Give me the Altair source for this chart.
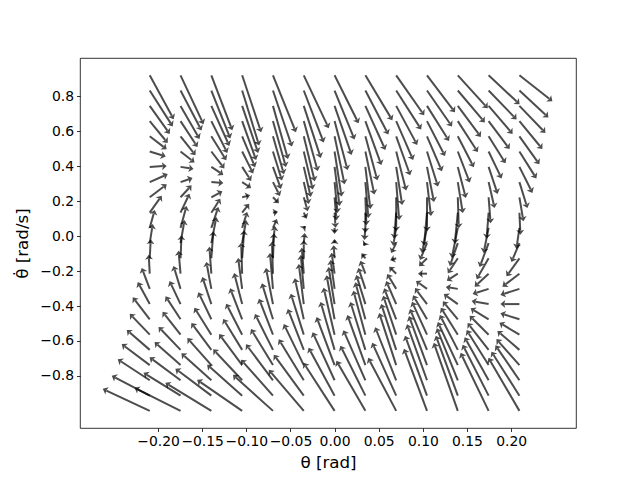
import math
import altair as alt
import pandas as pd

# grid of the quiver (theta in rad, theta-dot in rad/s)
THETA = [-0.2094, -0.1745, -0.1396, -0.1047, -0.0698, -0.0349, 0.0,
         0.0349, 0.0698, 0.1047, 0.1396, 0.1745, 0.2094]
OMEGA = [0.920, 0.833, 0.745, 0.658, 0.571, 0.484, 0.396, 0.309, 0.222,
         0.134, 0.047, -0.040, -0.127, -0.215, -0.302, -0.389, -0.476,
         -0.564, -0.651, -0.738, -0.825, -0.913, -1.000]

# arrow components (screen units: right / up), one list per theta column,
# rows from the top row (largest theta-dot) down
U = [
    [24, 23, 20, 18, 17, 16, 17, 18, 17, 12, 5, 3, 1, -1, -8, -12, -17, -20, -23, -28, -32, -38, -47],
    [23, 21, 19, 17, 15, 14, 13, 12, 11, 9, 6, 4, 1, -2, -7, -11, -15, -18, -22, -26, -31, -37, -46],
    [21, 19, 18, 16, 15, 13, 12, 12, 11, 9, 7, 5, 2, -2, -5, -9, -13, -17, -20, -24, -30, -36, -46],
    [19, 17, 16, 14, 13, 11, 9, 9, 8, 7, 5, 4, 2, -1, -4, -8, -12, -16, -19, -23, -29, -35, -45],
    [23, 19, 15, 13, 11, 9, 8, 7, 6, 5, 4, 2, 1, -1, -3, -7, -11, -14, -18, -22, -27, -32, -40],
    [25, 20, 17, 14, 11, 9, 7, 5, 4, 3, 2, 1, 0, -2, -3, -5, -9, -13, -16, -20, -25, -30, -35],
    [24, 20, 17, 13, 10, 7, 5, 3, 2, 1, 0, 0, -1, -3, -4, -6, -8, -11, -14, -18, -22, -26, -31],
    [27, 23, 20, 16, 12, 9, 5, 3, 1, 0, -1, -2, -4, -5, -7, -9, -10, -12, -15, -18, -22, -25, -29],
    [28, 25, 21, 17, 14, 10, 6, 3, 0, -2, -3, -5, -6, -7, -9, -10, -12, -13, -15, -17, -21, -24, -28],
    [28, 25, 22, 18, 15, 11, 7, 4, 0, -3, -5, -7, -8, -9, -11, -12, -14, -15, -17, -18, -20, -22, -23],
    [30, 27, 23, 20, 16, 12, 8, 5, 1, -3, -6, -8, -10, -11, -12, -14, -15, -17, -18, -20, -21, -22, -24],
    [31, 28, 24, 21, 17, 13, 9, 6, 2, -2, -5, -9, -12, -14, -16, -17, -18, -19, -21, -22, -24, -26, -28],
    [33, 29, 26, 23, 20, 17, 13, 8, 4, 1, -3, -8, -13, -17, -19, -19, -19, -20, -22, -23, -24, -28, -31],
]
V = [
    [-44, -36, -28, -22, -13, -5, 1, 8, 13, 17, 18, 19, 19, 19, 21, 22, 22, 21, 20, 21, 21, 20, 22],
    [-49, -40, -33, -26, -19, -11, -2, 4, 12, 19, 22, 23, 23, 23, 23, 23, 23, 23, 23, 23, 23, 23, 23],
    [-55, -48, -40, -32, -24, -17, -8, -1, 6, 14, 21, 26, 27, 27, 27, 27, 27, 27, 27, 27, 27, 27, 28],
    [-57, -55, -47, -39, -31, -22, -14, -6, 2, 9, 16, 23, 28, 31, 31, 31, 31, 31, 31, 31, 31, 31, 31],
    [-57, -56, -53, -46, -38, -29, -22, -14, -6, 1, 9, 17, 25, 32, 36, 36, 36, 36, 36, 36, 36, 36, 36],
    [-53, -52, -52, -50, -45, -38, -30, -22, -14, -6, 2, 10, 18, 26, 34, 40, 41, 41, 41, 41, 41, 41, 41],
    [-48, -49, -49, -49, -48, -45, -39, -31, -23, -15, -6, 4, 13, 21, 29, 37, 44, 47, 48, 48, 48, 48, 48],
    [-45, -44, -44, -44, -44, -43, -42, -36, -28, -20, -12, -3, 5, 13, 21, 29, 37, 44, 48, 50, 50, 50, 50],
    [-40, -39, -39, -39, -39, -39, -38, -38, -34, -26, -18, -10, -2, 7, 15, 23, 31, 39, 46, 52, 53, 53, 53],
    [-37, -36, -35, -35, -35, -35, -35, -34, -34, -33, -25, -17, -8, 0, 8, 16, 24, 33, 41, 49, 56, 60, 62],
    [-33, -32, -31, -31, -31, -31, -31, -31, -31, -31, -30, -23, -15, -7, 2, 10, 18, 27, 35, 43, 52, 60, 68],
    [-29, -29, -28, -28, -27, -27, -27, -26, -26, -26, -25, -24, -21, -13, -5, 3, 11, 19, 27, 35, 43, 51, 58],
    [-26, -27, -27, -28, -28, -27, -26, -26, -24, -22, -21, -19, -18, -13, -6, 0, 6, 12, 19, 26, 35, 44, 53],
]

X_TICKS = [-0.2, -0.15, -0.1, -0.05, 0.0, 0.05, 0.1, 0.15, 0.2]
Y_TICKS = [-0.8, -0.6, -0.4, -0.2, 0.0, 0.2, 0.4, 0.6, 0.8]

# plot area (pixels) and data domains
W, H = 496, 370
XDOM = [-0.2884, 0.2735]
YDOM = [-1.098, 1.019]
PX_X = W / (XDOM[1] - XDOM[0])
PX_Y = H / (YDOM[1] - YDOM[0])

rows = []
for i, th in enumerate(THETA):
    for j, om in enumerate(OMEGA):
        u, v = U[i][j], V[i][j]
        ln = math.hypot(u, v)
        if ln == 0:
            continue
        hl = min(4.0, 0.3 * ln)
        su = u - hl * u / ln
        sv = v - hl * v / ln
        rows.append({
            "theta": th, "omega": om,
            "tip_theta": th + u / PX_X, "tip_omega": om + v / PX_Y,
            "end_theta": th + su / PX_X, "end_omega": om + sv / PX_Y,
            "angle": (math.degrees(math.atan2(u, v)) + 360) % 360,
        })
df = pd.DataFrame(rows)

xs = alt.Scale(domain=XDOM, nice=False, zero=False)
ys = alt.Scale(domain=YDOM, nice=False, zero=False)

FONT = "DejaVu Sans"
xaxis = alt.Axis(values=X_TICKS, format=".2f", title="θ [rad]", grid=False, domain=False,
                 tickColor="black", tickSize=3.5, tickWidth=0.8,
                 labelFont=FONT, labelFontSize=13.9, labelColor="black", labelPadding=3,
                 titleFont=FONT, titleFontSize=16.7, titleFontWeight="normal",
                 titleColor="black", titlePadding=6)
yaxis = alt.Axis(values=Y_TICKS, format=".1f", title="θ̇ [rad/s]", grid=False, domain=False,
                 tickColor="black", tickSize=3.5, tickWidth=0.8,
                 labelFont=FONT, labelFontSize=13.9, labelColor="black", labelPadding=3,
                 titleFont=FONT, titleFontSize=16.7, titleFontWeight="normal",
                 titleColor="black", titlePadding=8)

shafts = alt.Chart(df).mark_rule(color="black", opacity=0.7, strokeWidth=2).encode(
    x=alt.X("theta:Q", scale=xs, axis=xaxis),
    y=alt.Y("omega:Q", scale=ys, axis=yaxis),
    x2="end_theta:Q",
    y2="end_omega:Q",
)

HEAD = "M0,0 L1,1.2 L0,0.95 L-1,1.2 Z"
heads = alt.Chart(df).mark_point(shape=HEAD, filled=True, color="black",
                                 opacity=0.7, size=64, strokeWidth=0).encode(
    x=alt.X("tip_theta:Q", scale=xs),
    y=alt.Y("tip_omega:Q", scale=ys),
    angle=alt.Angle("angle:Q", scale=None),
)

chart = alt.layer(shafts, heads).properties(
    width=W, height=H,
    autosize=alt.AutoSizeParams(type="none"),
    padding={"left": 72, "top": 50, "right": 56, "bottom": 52},
).configure(background="white").configure_view(stroke="black", strokeWidth=0.8)

chart.save("out.html", embed_options={"renderer": "svg", "actions": False})
